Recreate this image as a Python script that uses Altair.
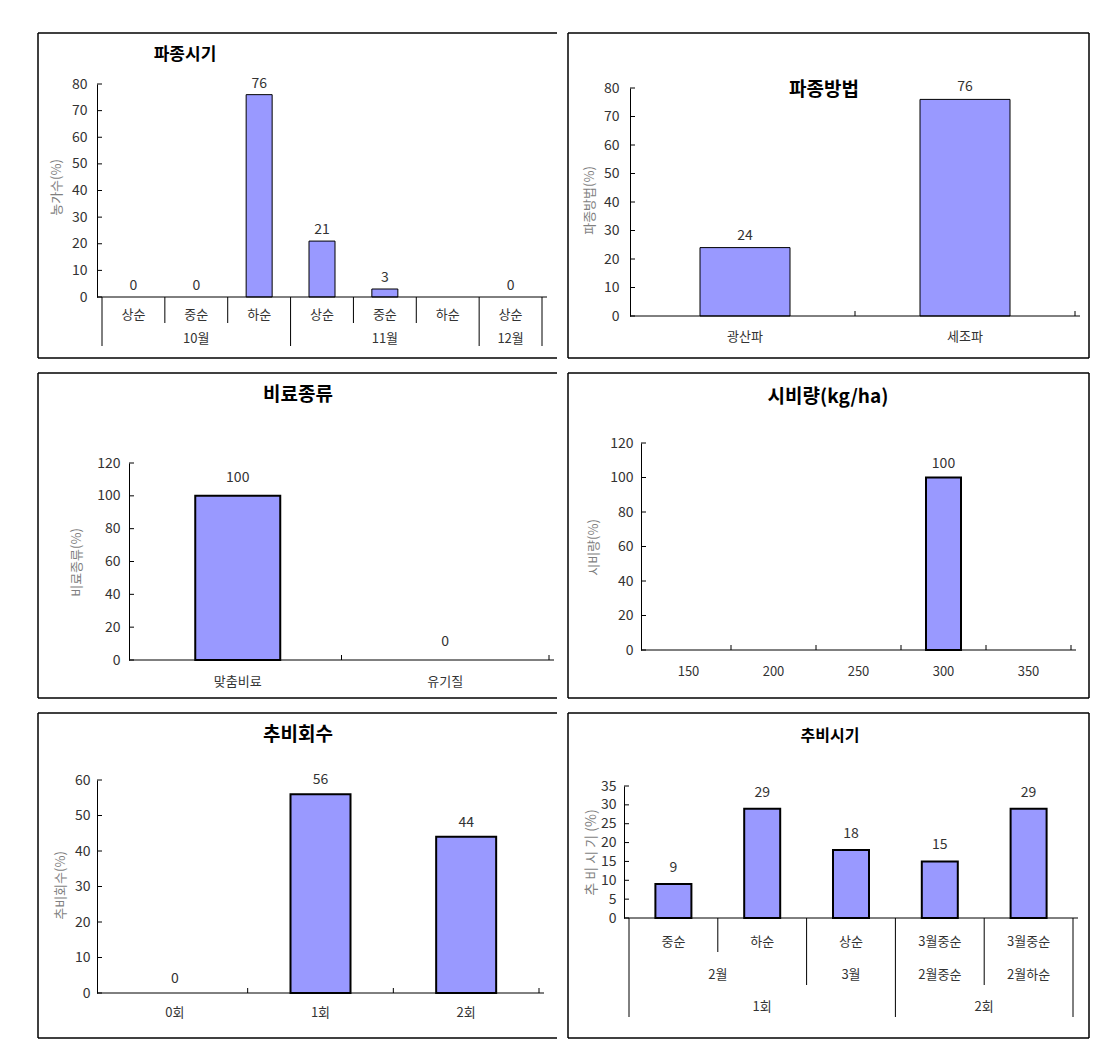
import altair as alt
import pandas as pd

FONT = "Noto Sans CJK KR"
FILL = "#9999FF"
TXT = "#333333"
AXT = "#7f7f7f"

# ---------------- data ----------------
p1_title = "파종시기"
p1_ytitle = "농가수(%)"
p1_sub = ["상순", "중순", "하순", "상순", "중순", "하순", "상순"]
p1_months = ["10월", "11월", "12월"]
p1_month_span = [3, 3, 1]
p1_values = [0, 0, 76, 21, 3, None, 0]
p1_yticks = [0, 10, 20, 30, 40, 50, 60, 70, 80]

p2_title = "파종방법"
p2_ytitle = "파종방법(%)"
p2_cats = ["광산파", "세조파"]
p2_values = [24, 76]
p2_yticks = [0, 10, 20, 30, 40, 50, 60, 70, 80]

p3_title = "비료종류"
p3_ytitle = "비료종류(%)"
p3_cats = ["맞춤비료", "유기질"]
p3_values = [100, 0]
p3_yticks = [0, 20, 40, 60, 80, 100, 120]

p4_title = "시비량(kg/ha)"
p4_ytitle = "시비량(%)"
p4_cats = ["150", "200", "250", "300", "350"]
p4_values = [None, None, None, 100, None]
p4_yticks = [0, 20, 40, 60, 80, 100, 120]

p5_title = "추비회수"
p5_ytitle = "추비회수(%)"
p5_cats = ["0회", "1회", "2회"]
p5_values = [0, 56, 44]
p5_yticks = [0, 10, 20, 30, 40, 50, 60]

p6_title = "추비시기"
p6_ytitle = "추 비 시 기 (%)"
p6_level1 = ["중순", "하순", "상순", "3월중순", "3월중순"]
p6_level2 = ["2월", "3월", "2월중순", "2월하순"]
p6_level2_span = [2, 1, 1, 1]
p6_level3 = ["1회", "2회"]
p6_level3_span = [3, 2]
p6_values = [9, 29, 18, 15, 29]
p6_yticks = [0, 5, 10, 15, 20, 25, 30, 35]


def group_table(names, spans):
    rows, start = [], 0
    for n, s in zip(names, spans):
        rows.append({"label": n, "pos": start + s / 2.0, "start": start, "end": start + s})
        start += s
    return rows


def panel(cfg):
    values = cfg["values"]
    levels = cfg["levels"]  # list of (names, spans), leaf first
    n = len(values)
    FW, FH = cfg["FW"], cfg["FH"]          # frame (view) size
    x0, y0 = cfg["origin"]                 # plot-area origin inside the frame
    W, H = cfg["W"], cfg["H"]              # plot-area size
    ymax = cfg["yticks"][-1]
    xs = alt.Scale(domain=[0, n], range=[x0, x0 + W], nice=False, zero=False)
    ys = alt.Scale(domain=[0, ymax], range=[y0 + H, y0], nice=False)
    base_y = y0 + H

    yaxis = alt.Axis(
        values=cfg["yticks"], offset=-x0, title=cfg["ytitle"],
        titleX=cfg["ytxy"][0], titleY=y0 + cfg["ytxy"][1],
        titleAngle=270, titleAlign="center", titleBaseline="middle", titleFont=FONT,
        titleFontSize=cfg.get("ytsize", 13), titleFontWeight="normal", titleColor=AXT,
        labelFont=FONT, labelFontSize=cfg.get("lsize", 14), labelColor=TXT,
        labelPadding=cfg["lpad"], ticks=False, grid=False,
        domainColor="black", domainWidth=1, labelFlush=False, labelOverlap=False,
    )

    def X(f):
        return alt.X(f, type="quantitative", scale=xs, axis=None)

    def Y(f):
        return alt.Y(f, type="quantitative", scale=ys, axis=yaxis)

    one = pd.DataFrame({"k": [0]})
    layers = []

    # bars
    bar_df = pd.DataFrame([{"pos": i + 0.5, "val": v} for i, v in enumerate(values)
                           if v is not None and v > 0])
    layers.append(
        alt.Chart(bar_df).mark_bar(size=cfg["bw"], fill=FILL, stroke="black",
                                   strokeWidth=cfg["sw"], orient="vertical")
        .encode(x=X("pos"), y=Y("val"))
    )

    # y ticks pointing inward
    layers.append(
        alt.Chart(pd.DataFrame({"val": cfg["yticks"]})).mark_rule(color="black", strokeWidth=1)
        .encode(x=alt.value(x0), x2=alt.value(x0 + 5), y=Y("val"))
    )

    # x baseline
    layers.append(
        alt.Chart(one).mark_rule(color="black", strokeWidth=1)
        .encode(x=alt.value(x0), x2=alt.value(x0 + W), y=alt.value(base_y))
    )

    # value labels
    lab_df = pd.DataFrame([{"pos": i + 0.5, "val": v, "lbl": str(v)} for i, v in enumerate(values)
                           if v is not None])
    layers.append(
        alt.Chart(lab_df).mark_text(dy=cfg["ldy"], baseline="middle", align="center", font=FONT,
                                    fontSize=14, color=TXT)
        .encode(x=X("pos"), y=Y("val"), text="lbl:N")
    )

    # category labels on each level
    for k, (names, spans) in enumerate(levels):
        df = pd.DataFrame(group_table(names, spans))
        layers.append(
            alt.Chart(df).mark_text(baseline="middle", align="center", font=FONT,
                                    fontSize=13, color=TXT)
            .encode(x=X("pos"), y=alt.value(base_y + cfg["loff"][k]), text="label:N")
        )

    if len(levels) > 1:
        depth = {}
        for k, (names, spans) in enumerate(levels):
            for r in group_table(names, spans):
                depth[r["start"]] = k
                depth[r["end"]] = k
        sep_df = pd.DataFrame([{"b": b, "lev": d} for b, d in sorted(depth.items())])
        for k in range(len(levels)):
            layers.append(
                alt.Chart(sep_df).transform_filter(alt.datum.lev == k)
                .mark_rule(color="black", strokeWidth=1)
                .encode(x=X("b"), y=alt.value(base_y), y2=alt.value(base_y + cfg["sep"][k]))
            )
    else:
        tick_df = pd.DataFrame({"b": list(range(1, n + 1))})
        layers.append(
            alt.Chart(tick_df).mark_rule(color="black", strokeWidth=1)
            .encode(x=X("b"), y=alt.value(base_y - 5), y2=alt.value(base_y))
        )

    # title
    layers.append(
        alt.Chart(pd.DataFrame({"t": [cfg["title"]]}))
        .mark_text(font=FONT, fontSize=cfg["tsize"], fontWeight="bold", color="black",
                   align="center", baseline="middle")
        .encode(x=alt.value(x0 + cfg["txy"][0]), y=alt.value(y0 + cfg["txy"][1]), text="t:N")
    )

    # frame
    fw = 1.5
    layers.append(alt.Chart(one).mark_rule(color="black", strokeWidth=fw)
                  .encode(x=alt.value(0), x2=alt.value(FW), y=alt.value(0)))
    layers.append(alt.Chart(one).mark_rule(color="black", strokeWidth=fw)
                  .encode(x=alt.value(0), x2=alt.value(FW), y=alt.value(FH)))
    layers.append(alt.Chart(one).mark_rule(color="black", strokeWidth=fw)
                  .encode(x=alt.value(0), y=alt.value(0), y2=alt.value(FH)))
    if cfg["right"]:
        layers.append(alt.Chart(one).mark_rule(color="black", strokeWidth=fw)
                      .encode(x=alt.value(FW), y=alt.value(0), y2=alt.value(FH)))

    return alt.layer(*layers).properties(width=FW, height=FH)


LW, RW, FH = 519, 521, 325

c1 = panel(dict(values=p1_values, levels=[(p1_sub, [1] * len(p1_sub)), (p1_months, p1_month_span)],
                FW=LW, FH=FH, origin=(59, 51), W=450, H=213, yticks=p1_yticks,
                title=p1_title, txy=(88, -29), tsize=17,
                ytitle=p1_ytitle, ytxy=(-41, 103), lpad=10, bw=26, sw=1, ldy=-11,
                loff=[18, 42], sep=[26, 49], right=False))

c2 = panel(dict(values=p2_values, levels=[(p2_cats, [1] * len(p2_cats))],
                FW=RW, FH=FH, origin=(62, 55), W=450, H=228, yticks=p2_yticks,
                title=p2_title, txy=(194, 2), tsize=19,
                ytitle=p2_ytitle, ytxy=(-41, 112), lpad=11, bw=90, sw=1, ldy=-12,
                loff=[21], right=True))

c3 = panel(dict(values=p3_values, levels=[(p3_cats, [1] * len(p3_cats))],
                FW=LW, FH=FH, origin=(91, 90), W=425, H=197, yticks=p3_yticks,
                title=p3_title, txy=(169, -68), tsize=19,
                ytitle=p3_ytitle, ytxy=(-53, 99), lpad=9, bw=85, sw=2, ldy=-18,
                loff=[22], right=False))

c4 = panel(dict(values=p4_values, levels=[(p4_cats, [1] * len(p4_cats))],
                FW=RW, FH=FH, origin=(73, 70), W=435, H=207, yticks=p4_yticks,
                title=p4_title, txy=(187, -46), tsize=19,
                ytitle=p4_ytitle, ytxy=(-48, 104), lpad=8, bw=35, sw=2, ldy=-14,
                loff=[22], right=True))

c5 = panel(dict(values=p5_values, levels=[(p5_cats, [1] * len(p5_cats))],
                FW=LW, FH=FH, origin=(59, 67), W=447, H=213, yticks=p5_yticks,
                title=p5_title, txy=(201, -45), tsize=19,
                ytitle=p5_ytitle, ytxy=(-37, 105), lpad=7, bw=60, sw=2, ldy=-14,
                loff=[20], right=False))

c6 = panel(dict(values=p6_values,
                levels=[(p6_level1, [1] * len(p6_level1)), (p6_level2, p6_level2_span),
                        (p6_level3, p6_level3_span)],
                FW=RW, FH=FH, origin=(56, 73), W=454, H=132, yticks=p6_yticks,
                title=p6_title, txy=(206, -50), tsize=16,
                ytitle=p6_ytitle, ytxy=(-33, 66), ytsize=14, lsize=14, lpad=8, bw=36, sw=2,
                ldy=-16, loff=[24, 57, 89], sep=[34, 67, 99], right=True))

chart = alt.vconcat(
    alt.hconcat(c1, c2, spacing=7),
    alt.hconcat(c3, c4, spacing=7),
    alt.hconcat(c5, c6, spacing=7),
    spacing=11,
).configure_view(stroke="transparent").properties(
    padding={"left": 28, "top": 23, "right": 5, "bottom": 5},
    background="white",
)

chart.save("out.html", embed_options={"renderer": "svg", "actions": False})
